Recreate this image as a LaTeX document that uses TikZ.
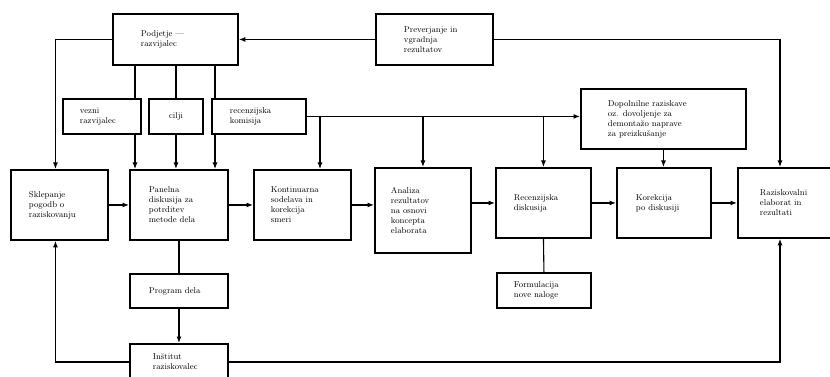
\documentclass[tikz,border=0pt]{standalone}
\usepackage{tikz}
\usetikzlibrary{calc,arrows.meta}
\tikzset{
	blok/.style={draw, line width=1.9pt, fill=white, anchor=north west, inner ysep=0pt, align=left, font=\fontsize{8.5}{10}\selectfont},
	pot/.style={line width=1.1pt},
	pusica/.style={pot, -{Latex[length=6.5pt,width=5pt]}}
}

\begin{document}
\begin{tikzpicture}[x=1pt,y=-1pt]
			%%%%% START %%%%%
			\useasboundingbox (0,0) rectangle (830,377);
			
			\node[blok, inner xsep=28pt, text width=69pt, minimum height=51pt] (podj) at (112,13) {Podjetje —\\razvijalec};
			\node[blok, inner xsep=28pt, text width=61pt, minimum height=51pt] (prev) at (375,13) {Preverjanje in\\vgradnja\\rezultatov};
			
			\node[blok, inner xsep=17pt, text width=44pt, minimum height=35pt] (vezni) at (62,98) {vezni\\razvijalec};
			\node[blok, inner xsep=17pt, text width=20pt, minimum height=35pt, align=center] (cilji) at (148,98) {cilji};
			\node[blok, inner xsep=18pt, text width=58pt, minimum height=35pt] (rk) at (211,98) {recenzijska\\komisija};
			\node[blok, inner xsep=27pt, text width=111pt, minimum height=60pt] (dop) at (580,88) {Dopolnilne raziskave\\oz. dovoljenje za\\demontažo naprave\\za preizkušanje};
			
			\node[blok, inner xsep=18pt, text width=61pt, minimum height=70pt] (sklep) at (10,169) {Sklepanje\\pogodb o\\raziskovanju};
			\node[blok, inner xsep=19pt, text width=60pt, minimum height=70pt] (panel) at (129,169) {Panelna\\diskusija za\\potrditev\\metode dela};
			\node[blok, inner xsep=17pt, text width=63pt, minimum height=70pt] (kont) at (253,169) {Kontinuarna\\sodelava in\\korekcija\\smeri};
			\node[blok, inner xsep=16pt, text width=64pt, minimum height=85pt] (anal) at (374,167) {Analiza\\rezultatov\\na osnovi\\koncepta\\elaborata};
			\node[blok, inner xsep=18pt, text width=59pt, minimum height=70pt] (recd) at (495,167) {Recenzijska\\diskusija};
			\node[blok, inner xsep=19pt, text width=56pt, minimum height=70pt] (kor) at (616,167) {Korekcija\\po diskusiji};
			\node[blok, inner xsep=22pt, text width=56pt, minimum height=70pt] (raz) at (737,167) {Raziskovalni\\elaborat in\\rezultati};
			
			\node[blok, inner xsep=19pt, text width=60pt, minimum height=34pt] (prog) at (129,273) {Program dela};
			\node[blok, inner xsep=17pt, text width=60pt, minimum height=35pt] (form) at (496,272) {Formulacija\\nove naloge};
			\node[blok, inner xsep=23pt, text width=52pt, minimum height=36pt] (inst) at (129,343) {Inštitut\\raziskovalec};
			
			% zgoraj
			\draw[pusica] (prev.west) -- (podj.east);
			\draw[pusica] (podj.west) -| ($(sklep.north)+(-4,0)$);
			\draw[pot] (135,0 |- podj.south) -- (135,0 |- vezni.north);
			\draw[pusica] (135,0 |- vezni.south) -- (135,0 |- panel.north);
			\draw[pot] (cilji.north |- podj.south) -- (cilji.north);
			\draw[pusica] (cilji.south) -- (cilji.south |- panel.north);
			\draw[pot] (215,0 |- podj.south) -- (215,0 |- rk.north);
			\draw[pusica] (215,0 |- rk.south) -- (215,0 |- panel.north);
			
			\draw[pusica] (rk.east) -- (rk.east -| dop.west);
			\draw[pusica] (320,0 |- rk.east) -- (320,0 |- kont.north);
			\draw[pusica] (rk.east -| anal.north) -- (anal.north);
			\draw[pusica] (rk.east -| recd.north) -- (recd.north);
			\draw[pusica] (prev.east) -| (780,0 |- raz.north);
			\draw[pusica] (dop.south) -- (dop.south |- kor.north);
			
			% glavna vrsta
			\draw[pusica] (sklep.east) -- (panel.west);
			\draw[pusica] (panel.east) -- (kont.west);
			\draw[pusica] (kont.east) -- (kont.east -| anal.west);
			\draw[pusica] (anal.east |- recd.west) -- (recd.west);
			\draw[pusica] (recd.east) -- (kor.west);
			\draw[pusica] (kor.east) -- (raz.west);
			
			% spodaj
			\draw[pot] (panel.south) -- (prog.north);
			\draw[pusica] (prog.south) -- (inst.north);
			\draw[pusica] (inst.west) -| ($(sklep.south)+(-4,0)$);
			\draw[pusica] (inst.east) -| (780,0 |- raz.south);
			\draw[pot] (recd.south) -- (form.north);
			
			%%%%% END %%%%%
\end{tikzpicture}
\end{document}
